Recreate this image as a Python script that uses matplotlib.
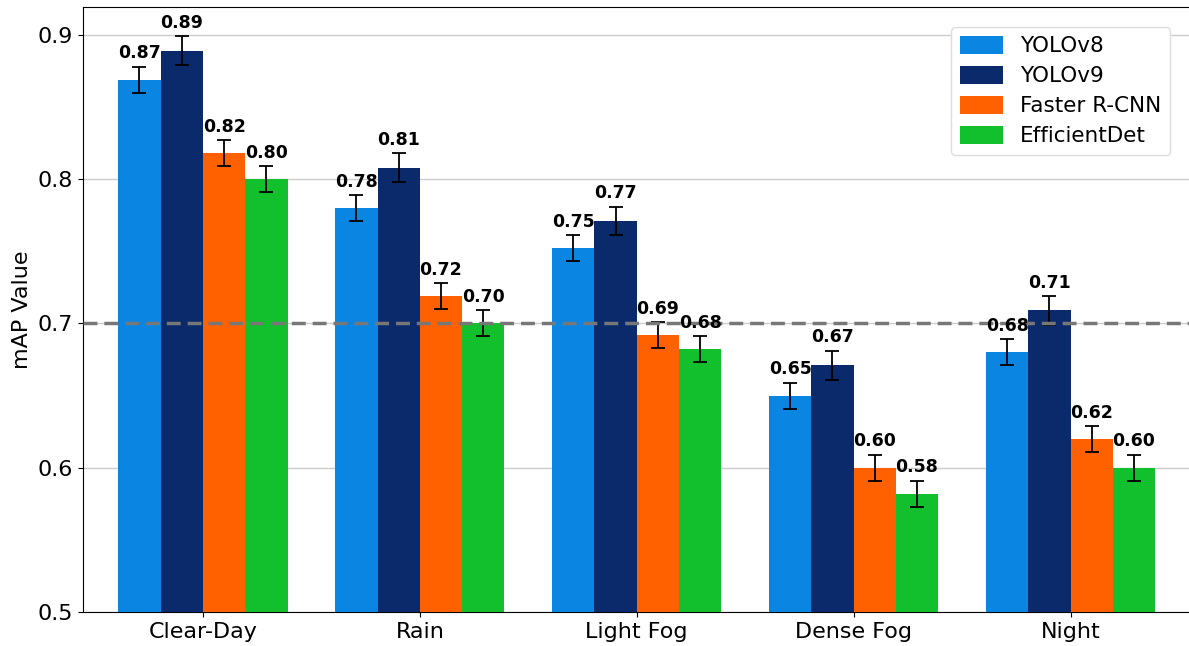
import matplotlib
matplotlib.use("AGG")
import matplotlib.pyplot as plt
import numpy as np

# data
conditions = ['Clear-Day', 'Rain', 'Light Fog', 'Dense Fog', 'Night']
models = ['YOLOv8', 'YOLOv9', 'Faster R-CNN', 'EfficientDet']
yolov8 = [0.869, 0.780, 0.752, 0.650, 0.680]
yolov9 = [0.889, 0.808, 0.771, 0.671, 0.709]
faster_rcnn = [0.818, 0.719, 0.692, 0.600, 0.620]
efficientdet = [0.800, 0.700, 0.682, 0.582, 0.600]
errors = [0.009, 0.010, 0.009, 0.009]
baseline = 0.7

series = [yolov8, yolov9, faster_rcnn, efficientdet]
colours = ['#0a86e2', '#0b2a6c', '#ff6100', '#12bf2c']

fig = plt.figure(figsize=(11.89, 6.46), dpi=100)
ax = fig.add_axes([0.0698, 0.0526, 0.9327, 0.936])

x = np.arange(len(conditions))
width = 0.195
for i, (vals, c, name) in enumerate(zip(series, colours, models)):
    pos = x + (i - 1.5) * width
    ax.bar(pos, vals, width, color=c, label=name, zorder=3,
           yerr=errors[i], capsize=5,
           error_kw=dict(ecolor='black', elinewidth=1.3, capthick=1.3, zorder=4))
    for p, v in zip(pos, vals):
        ax.text(p, v + errors[i] + 0.003, '%.2f' % v, ha='center', va='bottom',
                fontsize=12.5, fontweight='bold', zorder=5)

ax.axhline(baseline, color='#777777', linestyle='--', linewidth=2.5, dashes=(4, 2), zorder=4)

ax.set_xlim(-0.553, 4.56)
ax.set_ylim(0.5, 0.919)
ax.set_yticks([0.5, 0.6, 0.7, 0.8, 0.9])
ax.set_xticks(x)
ax.set_xticklabels(conditions)
ax.tick_params(axis='both', labelsize=16)
ax.set_ylabel('mAP Value', fontsize=16)
ax.yaxis.grid(True, color='#cccccc', linewidth=1, zorder=0)
ax.set_axisbelow(True)

ax.legend(loc='upper right', fontsize=15.5, bbox_to_anchor=(0.99, 0.985),
          handlelength=2.0, handleheight=0.9, labelspacing=0.45, framealpha=1,
          edgecolor='#dddddd')

fig.savefig('out.png', dpi=100)
